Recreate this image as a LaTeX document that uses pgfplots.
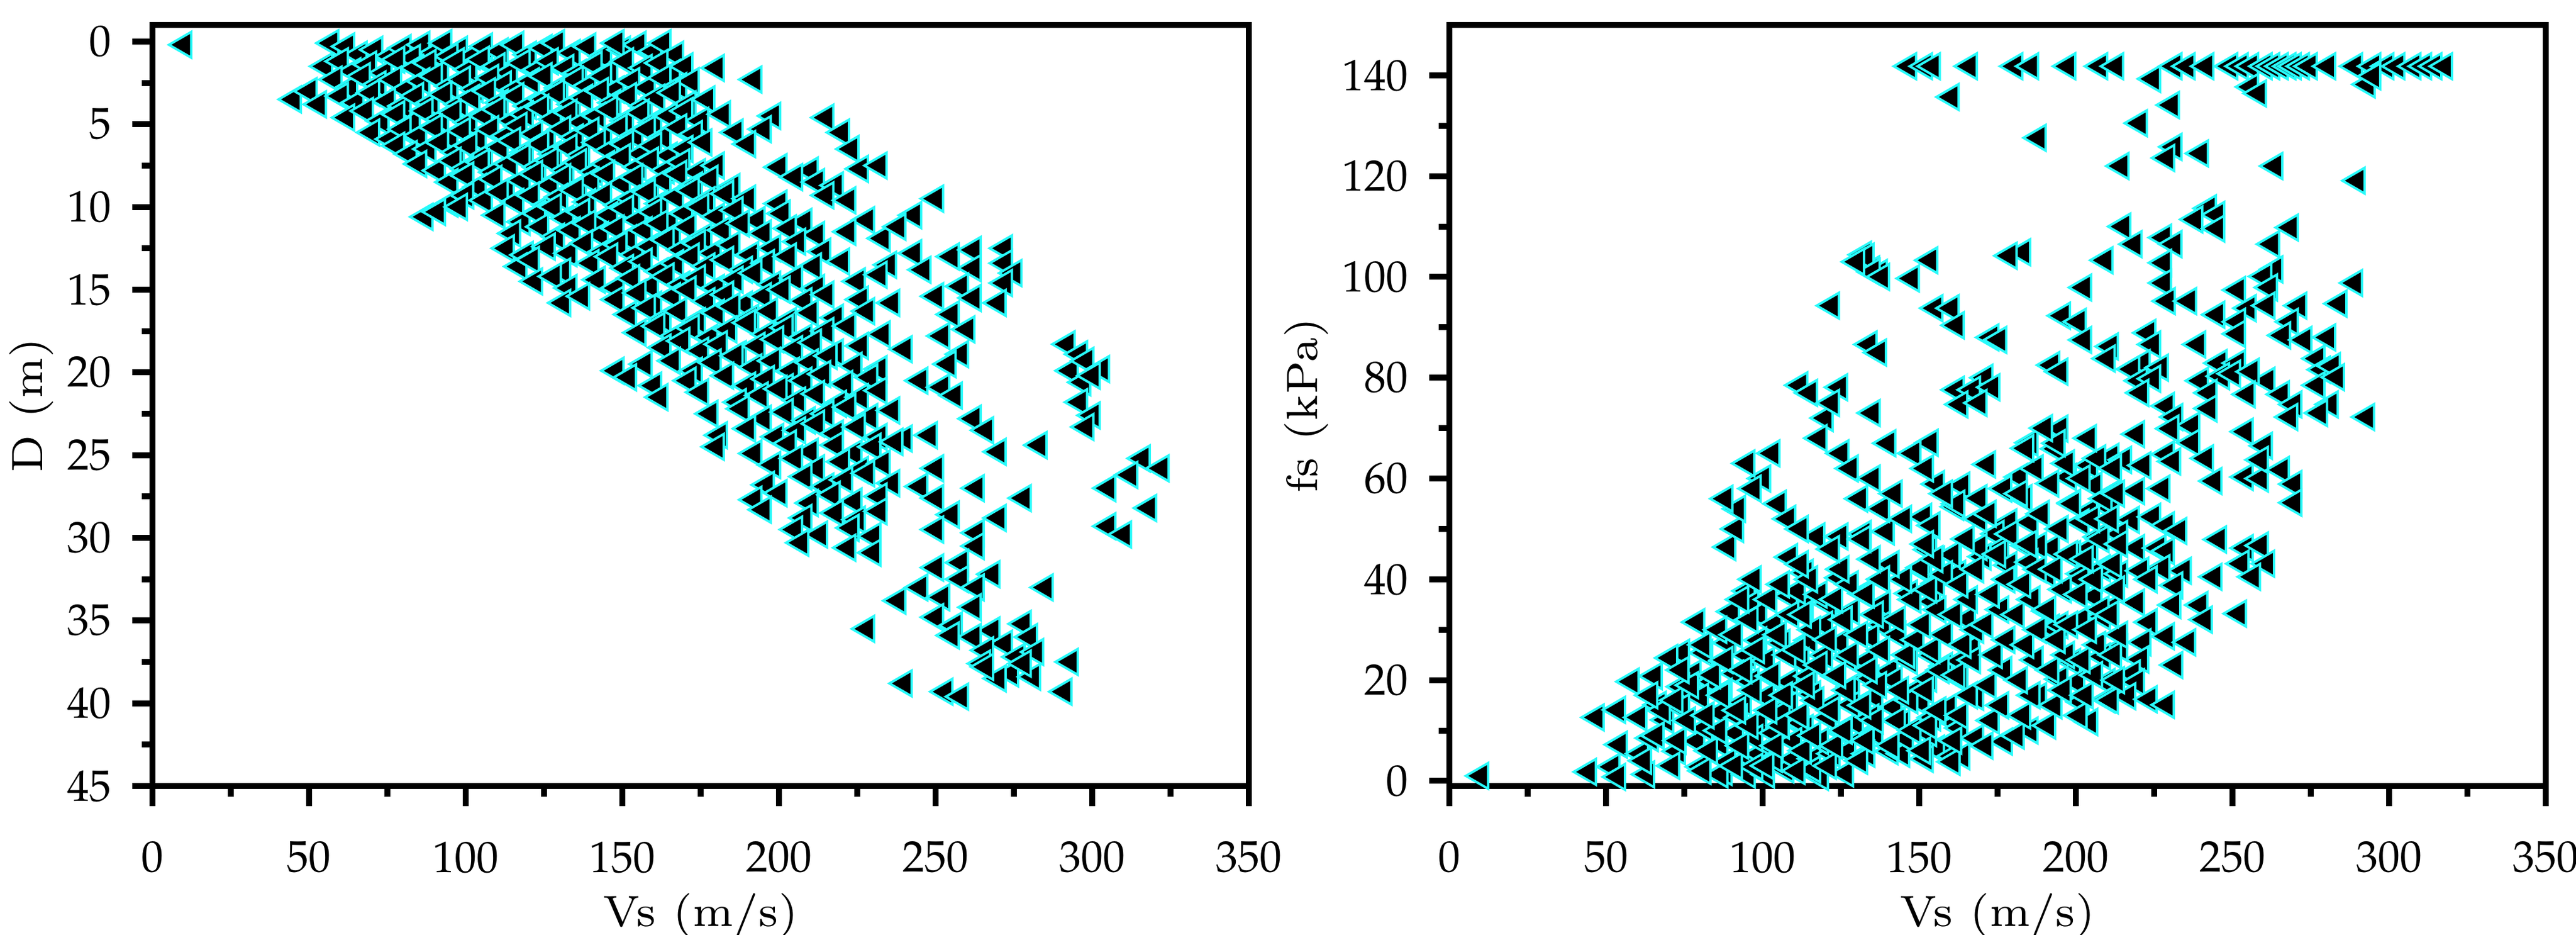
\documentclass[border=0pt]{standalone}
\usepackage{mathpazo}
\usepackage{pgfplots}
\pgfplotsset{compat=1.18}
\definecolor{edgecyan}{RGB}{40,250,250}
\pgfplotsset{
  myaxis/.style={
    scale only axis, width=184.8pt, height=128.2pt,
    axis line style={line width=1pt},
    tick align=outside,
    major tick length=3.4pt, minor tick length=1.8pt,
    every tick/.style={line width=1pt, black},
    xtick pos=lower, ytick pos=left,
    xmin=0, xmax=350, xtick={0,50,...,350}, minor x tick num=1,
    tick label style={font=\fontsize{7.4}{8.5}\selectfont},
    xticklabel style={yshift=-2.5pt},
    label style={font=\fontsize{7.4}{8.5}\selectfont},
    xlabel={Vs (m/s)},
    xlabel shift=-3.5pt, ylabel shift=-4.5pt,
    scaled ticks=false,
  },
  mystyle/.style={only marks, mark=triangle*, mark size=2.5pt,
    mark options={draw=edgecyan, fill=black, line width=0.4pt, rotate=90}},
}
\begin{document}
\begin{tikzpicture}
\useasboundingbox (-25.7pt,-25.1pt) rectangle (408.5pt,132.4pt);
\begin{axis}[myaxis, ymin=-1, ymax=45, y dir=reverse, ytick={0,5,...,45}, minor y tick num=1,
  ylabel={D (m)}]
\addplot[mystyle] table {
x y
10 0.2
57 0.1
62 0.3
66 0.8
71 0.5
76 0.9
80 0.4
86 0.2
90 0.7
93 0.1
98 0.5
102 0.9
106 0.3
111 0.6
116 0.2
120 0.8
125 0.4
129 0.1
134 0.7
139 0.3
144 0.9
150 0.5
155 0.2
160 0.6
163 0.1
167 0.8
83 1.0
95 0.9
148 0.1
55 1.5
60 1.2
64 1.8
69 1.4
74 1.9
78 1.1
84 1.6
88 1.3
92 1.9
97 1.2
101 1.7
105 1.1
110 1.5
114 1.9
118 1.3
123 1.7
127 1.2
132 1.6
136 1.9
141 1.4
146 1.8
151 1.2
157 1.6
162 1.3
166 1.9
170 1.5
180 1.6
58 2.3
63 2.8
67 2.1
72 2.6
77 2.3
81 2.9
86 2.4
90 2.1
95 2.7
99 2.3
103 2.9
108 2.2
112 2.6
116 2.9
121 2.4
125 2.1
130 2.8
135 2.3
139 2.7
144 2.1
148 2.9
153 2.4
158 2.8
163 2.2
168 2.7
172 2.4
192 2.3
45 3.5
50 3.0
53 3.8
60 3.3
65 3.7
70 3.1
75 3.6
80 3.9
84 3.3
89 3.7
93 3.2
98 3.8
102 3.4
107 3.0
111 3.7
116 3.3
120 3.9
125 3.5
129 3.1
134 3.8
138 3.4
143 3.0
147 3.7
152 3.3
157 3.9
161 3.4
166 3.1
171 3.8
177 3.5
62 4.6
68 4.2
73 4.8
78 4.4
83 4.9
87 4.2
92 4.7
96 4.3
101 4.9
106 4.5
110 4.1
115 4.8
119 4.4
124 4.0
128 4.7
133 4.3
137 4.9
142 4.5
146 4.1
151 4.8
156 4.3
160 4.9
165 4.5
170 4.2
175 4.8
182 4.4
198 4.5
215 4.6
70 5.5
76 5.9
80 5.3
85 5.7
90 5.2
95 5.8
99 5.4
104 5.9
108 5.3
113 5.7
117 5.1
122 5.6
126 5.9
131 5.3
135 5.8
140 5.4
144 5.9
149 5.2
154 5.7
158 5.3
163 5.8
168 5.2
173 5.6
186 5.5
195 5.3
220 5.5
78 6.3
82 6.8
88 6.5
92 6.1
97 6.7
101 6.3
106 6.9
111 6.4
115 6.0
119 6.7
124 6.2
128 6.8
133 6.4
137 6.9
142 6.1
146 6.6
151 6.2
156 6.8
160 6.3
165 6.9
170 6.5
176 6.1
190 6.2
223 6.5
85 7.4
91 7.8
96 7.2
100 7.7
105 7.3
109 7.9
114 7.4
118 7.0
123 7.6
127 7.2
132 7.8
136 7.3
141 7.9
145 7.4
150 7.0
155 7.6
159 7.2
164 7.8
169 7.3
174 7.9
180 7.5
200 7.6
210 7.8
226 7.7
232 7.5
95 8.5
100 8.1
104 8.8
109 8.3
113 8.9
118 8.4
122 8.0
127 8.7
131 8.2
136 8.8
140 8.4
145 8.0
150 8.6
154 8.2
159 8.9
163 8.4
168 8.0
173 8.7
178 8.3
185 8.8
205 8.2
212 8.5
218 8.7
95 9.8
100 9.3
106 9.6
111 9.1
116 9.7
121 9.3
126 9.9
130 9.4
135 9.0
139 9.7
144 9.3
149 9.9
153 9.5
158 9.1
162 9.8
167 9.4
172 9.0
177 9.6
183 9.2
190 9.5
200 9.8
215 9.3
222 9.6
250 9.5
243 10.5
87 10.6
91 10.3
98 10.0
110 10.5
118 10.9
123 10.4
128 10.0
132 10.7
137 10.3
142 10.9
146 10.5
151 10.1
155 10.8
160 10.3
165 10.9
170 10.4
175 10.0
180 10.6
186 10.2
193 10.8
201 10.4
208 10.9
228 10.8
115 11.6
124 11.2
129 11.8
134 11.4
139 11.0
143 11.7
148 11.3
152 11.9
157 11.4
162 11.0
166 11.7
171 11.2
176 11.8
182 11.4
188 11.0
195 11.6
203 11.3
212 11.7
222 11.5
233 11.9
238 11.2
113 12.5
119 12.9
126 12.4
133 12.8
138 12.2
144 12.7
149 12.3
154 12.9
159 12.4
164 12.0
169 12.6
174 12.2
179 12.8
185 12.3
191 12.9
198 12.5
206 12.1
214 12.7
243 12.8
255 13.0
262 12.6
272 12.5
117 13.6
121 13.2
131 13.9
140 13.4
146 13.0
151 13.7
157 13.3
162 13.9
167 13.4
172 13.0
177 13.6
183 13.2
189 13.8
196 13.4
203 13.0
211 13.6
220 13.3
235 13.5
246 13.8
262 13.7
272 13.4
275 14.0
122 14.5
128 14.2
133 14.9
142 14.4
148 14.9
153 14.3
159 14.8
164 14.2
169 14.7
174 14.3
180 14.9
186 14.4
192 14.0
198 14.7
205 14.3
212 14.9
225 14.5
232 14.1
258 14.8
272 14.6
131 15.8
137 15.4
148 15.6
155 15.2
160 15.9
166 15.4
171 15.0
177 15.7
183 15.3
189 15.9
195 15.4
201 15.0
208 15.7
215 15.3
226 15.6
236 15.8
250 15.4
262 15.5
270 15.8
152 16.5
158 16.1
163 16.8
168 16.3
174 16.9
180 16.4
185 16.0
191 16.7
197 16.3
203 16.9
210 16.4
218 16.7
228 16.3
255 16.5
155 17.6
161 17.2
167 17.8
172 17.3
178 17.9
184 17.4
190 17.0
196 17.7
202 17.3
208 17.9
215 17.5
222 17.2
233 17.7
252 17.8
260 17.4
163 18.5
169 18.1
175 18.7
181 18.3
187 18.9
193 18.4
199 18.0
205 18.6
211 18.2
218 18.8
226 18.4
240 18.6
258 18.9
292 18.3
296 18.9
148 19.9
157 19.5
166 19.3
173 19.9
179 19.4
186 19.0
192 19.7
198 19.3
204 19.9
210 19.4
216 19.0
224 19.6
232 19.8
254 19.5
293 19.9
298 19.3
303 19.8
152 20.3
160 20.8
171 20.5
183 20.2
190 20.8
196 20.4
202 20.9
208 20.5
214 20.1
221 20.7
229 20.3
245 20.5
252 20.9
297 20.6
300 20.2
162 21.5
175 21.2
187 21.8
194 21.4
200 21.0
206 21.7
212 21.3
219 21.9
226 21.5
232 21.1
256 21.4
296 21.8
178 22.5
188 22.2
195 22.8
202 22.4
209 22.9
215 22.5
222 22.1
229 22.7
236 22.3
262 22.8
300 22.6
298 23.3
181 23.8
190 23.4
199 23.9
206 23.5
212 23.1
218 23.7
225 23.3
232 23.9
266 23.5
240 24.0
248 23.8
180 24.5
192 24.9
203 24.3
210 24.8
218 24.4
224 24.9
230 24.5
237 24.2
270 24.8
283 24.4
316 25.2
198 25.6
205 25.2
212 25.8
220 25.4
226 25.9
233 25.5
250 25.8
322 25.8
312 26.2
196 26.8
208 26.3
215 26.9
221 26.5
228 26.1
236 26.7
245 26.9
263 27.0
305 27.0
192 27.7
200 27.3
210 27.9
217 27.4
224 27.8
232 27.5
250 27.6
278 27.6
318 28.2
195 28.3
208 28.8
218 28.5
225 28.9
232 28.4
255 28.6
270 28.8
205 29.5
213 29.8
223 29.4
230 29.9
250 29.5
263 29.7
305 29.3
310 29.8
207 30.3
222 30.6
230 30.9
263 30.5
258 31.5
250 31.8
258 32.5
268 32.2
245 33.0
252 33.6
263 33.0
285 33.0
238 33.8
262 34.2
250 34.8
256 35.3
228 35.5
268 35.6
278 35.2
262 36.0
272 36.4
280 36.0
255 35.9
266 36.8
276 37.2
282 36.9
293 37.5
265 37.6
274 38.2
240 38.8
253 39.3
258 39.6
270 38.5
281 38.4
291 39.3
266 37.8
278 37.6
};
\end{axis}
\begin{axis}[myaxis, xshift=218.6pt, ymin=-1, ymax=150, ytick={0,20,...,140}, minor y tick num=1,
  ylabel={fs (kPa)}]
\addplot[mystyle] table {
x y
146.6 141.8
151.7 141.8
154.2 141.8
166 141.8
180.5 141.8
185.6 141.8
197.4 141.8
207.6 141.8
212.7 141.8
231.3 141.8
235.5 141.8
241.5 141.8
249.1 141.8
252.5 141.8
255.8 141.8
260.1 141.8
262.5 141.8
265.2 141.8
267.7 141.8
269.4 141.8
272 141.8
274.5 141.8
280.4 141.8
289 141.8
294.8 141.8
299 141.8
302.5 141.8
307.6 141.8
311 141.8
314.3 141.8
317.7 141.8
224.5 139.3
293 138.2
294.8 139.8
255.8 137.7
258.3 136.4
160.2 135.7
230.5 134.1
220.3 130.5
188 127.6
231.3 125.8
239.8 124.5
229 123.6
214.4 122
263.5 122
289.8 119.1
242.3 113.6
245 112.3
238 111.4
215 110
245 109.6
268.5 109.8
228 107.8
231.3 106.5
218.6 106.5
262.5 106.5
132.2 104.4
183 104.9
178.7 104.2
153.4 103.3
209.3 103.3
228 102.8
134.8 101.5
137.3 100.8
147.5 99.7
263.5 101.5
260 100.1
202.5 97.9
228 98.8
251.6 97.4
261.8 97.9
289 98.8
122 94.3
155 93.8
160.2 93.8
229.2 95.2
236 95.2
195.7 92.3
200.8 91.1
245 92.5
255 93.8
261 94.3
271.2 94.3
284 94.7
251.6 91.1
268.5 91.1
161.8 90.4
134 86.6
172.9 88
175.4 87.5
202.5 87.5
211 86.2
223 88.9
224.5 86.6
238.9 86.6
251.6 88.7
266 88.4
272.8 87.5
280.4 88
192.3 82.5
210 83.8
221.2 82.9
227 82
245.7 82.9
251.6 82.9
277 83.8
278.7 81.6
171 80.0
217.8 81.7
220.3 79.4
224.5 79.8
239.8 79.4
246.5 80.3
250 80.8
261 79.4
277 78.5
111.9 78.5
124.6 78.1
161.8 77.6
167 77.6
194.9 81.2
173.2 78.1
163 74.7
169.1 75
256 81.2
281.9 82.3
283.2 80.1
220.7 77
242.5 77
254.7 76.7
265.6 76.7
269.6 74.7
281.2 74.7
277.8 73
268.3 72.2
292.8 72.2
228.9 74.4
231.6 72.2
237 70.5
242.5 73.9
153.5 67.1
185.4 67.1
194.9 69.9
193.6 65.9
219.4 68.8
230.3 69.9
254.1 69.3
260.2 66.5
237 67.1
171.8 62.8
182 60.3
155.5 58.9
163.6 58.6
169.1 56.1
161.6 54.4
183.4 56.1
151.4 52.4
154.1 50.7
197.6 60.3
204.4 62.6
211.2 64.3
215.2 63.7
221.4 62.6
228.9 64.8
230.9 63.4
241.4 64
244.1 59.5
254.1 60.3
258.9 60
258.9 63.7
265.6 61.7
269.6 58.9
269.6 55.2
205.8 58.6
211.2 56.9
219.4 57.5
227.5 58
199 55.2
204.4 53.5
211.2 54.1
217.7 51.8
224.5 52.4
228.9 50.7
232.9 49.6
201.7 51.3
207.2 48.4
214 49
219.4 46.2
204.4 46.2
199 45
192.2 46.2
185.4 51.3
178.6 51.3
174.5 49
184.1 46.7
176 46.2
245.5 47.9
254.1 46.2
258.9 46.7
226.2 46.2
228.9 45.6
252.7 43.1
260.9 43.1
244.1 40.5
256.4 40.5
234.3 41.7
227.5 42.2
155.5 43.9
160.9 45
151.4 41.7
162.3 41.1
188.1 46.7
170.4 44.5
178.6 42.8
185.4 43.4
190.8 41.1
201.7 41.1
208.5 42.2
214 41.1
220.7 41.7
223.4 40
201.7 40
219.4 35.4
231.6 38.8
231 34.9
239.6 34.9
241 32
251.9 33.2
223.4 31.5
205.8 36.6
208.5 32.6
211.2 34.3
190.8 33.7
201.7 32
192.2 30.4
194.9 30.9
228.9 28.7
235.7 27.5
221.4 27.5
214 26.4
208.5 24.7
199 23.6
220.7 24.1
231.6 23
218 21.3
219.4 19.6
216.6 16.8
223.4 16.2
228.9 15.1
209.9 19.6
209.9 16.2
201.7 15.7
204.4 11.7
200.3 19.6
194.9 20.2
188.1 16.8
185.4 10
177.2 7.8
163.6 4.9
159.5 6.6
10 1
44.4 1.8
51.9 2.8
53.7 0.8
63 1.3
46.9 12.6
53.7 14.1
54.3 7.2
61.1 5.4
64.2 8.5
58 19.7
65.4 20.8
60.5 12.6
69.1 12.1
72.8 5.9
79 7.9
86.4 7.4
80.2 2.8
87.7 1.8
95.1 1.3
101.2 1.3
107.4 2.3
118.5 0.8
126.5 1.5
88.9 3.8
96.3 4.4
98.8 5.4
103.7 6.4
109.9 4.4
116 4.4
122.2 5.4
118.5 7.9
113.6 10.5
125.9 9.5
132.1 8.5
129.6 11.5
140.7 5.9
144.4 5.4
155.5 6.4
160.5 4.9
153 9.5
161.7 11.5
148.1 17.7
140.7 21.8
158 22.8
166.7 26.4
165.4 32.1
154.3 35.6
150.6 42.3
160.5 44.9
153 45.9
169.1 46.4
108.6 44.4
88.9 46.4
91.4 50
117.3 48.5
124.7 48.5
132.1 49
139.5 49.5
79 31.5
95.1 37.7
96.3 35.1
90.1 33.6
98.8 33.1
103.7 31
108.6 36.7
113.6 34.6
111.1 37.7
121 35.1
124.7 40.3
132.1 37.2
138.3 35.1
146.9 37.2
155.5 39.2
128.4 33.6
119.8 31
138.3 31
143.2 29
134.6 28.5
124.7 27.4
114.8 27.9
106.2 27.4
98.8 27.9
88.9 27.4
81.5 25.4
74.1 25.4
70.4 24.4
87.7 23.8
95.1 24.9
101.2 23.8
112.3 23.8
119.8 24.9
127.2 24.4
133.3 23.8
146.9 23.8
154.3 24.9
163 23.8
77.8 21.3
84 19.7
91.4 21.3
96.3 19.7
102.5 20.8
108.6 19.7
114.8 20.8
123.5 20.8
128.4 18.7
134.6 20.3
153 20.3
163 20.3
74.1 18.7
80.2 16.7
87.7 17.7
93.8 15.6
101.2 16.7
108.6 15.1
116 17.2
122.2 15.1
128.4 15.1
135.8 16.7
141.9 14.6
150.6 15.6
159.3 14.6
168 16.7
66.7 15.1
74.1 14.6
86.4 13.6
92.6 12.6
98.8 11.5
106.2 13.6
112.3 11.5
121 12.6
134.6 12.6
144.4 11.5
154.3 12.6
163 10.5
81.5 10.5
91.4 9.5
97.5 8.5
103.7 9.5
109.9 7.9
135.8 9.5
145.6 8.5
168 8.5
127.2 5.9
133.3 5.4
151.9 4.4
160.5 3.8
103.7 4.4
116 2.3
97.5 2.8
86.4 1.3
113.6 41.3
141 7
143 12
147 16
142 20
146 25
149 28
143 32
148 36
145 40
141 43
148 10
144 18
151 6
153 11
156 14
152 18
157 22
154 26
158 29
151 31
156 34
153 38
158 41
155 44
152 47
161 8
163 13
166 17
162 21
167 24
164 27
168 30
161 33
166 36
163 39
168 42
165 48
169 52
162 55
171 7
173 12
176 15
172 19
177 22
174 25
178 28
171 31
176 34
173 37
178 40
175 45
179 49
172 53
177 58
181 9
183 13
186 17
182 20
187 24
184 27
188 30
181 33
186 36
183 39
188 42
185 47
189 53
182 57
187 62
184 66
191 11
193 15
196 18
192 22
197 25
194 28
198 31
191 34
196 38
193 42
198 45
195 50
199 55
192 59
197 63
194 67
190 70
201 13
203 17
206 21
202 24
207 27
204 30
208 34
201 37
206 40
203 44
208 48
205 52
209 56
202 60
207 64
204 68
211 16
213 20
212 25
214 29
211 33
213 38
212 43
214 47
211 52
213 57
212 62
101 3
104 7
106 11
102 14
107 17
103 21
108 25
105 29
109 33
102 36
106 39
111 2
113 6
116 9
112 13
117 16
114 19
118 23
111 26
116 30
113 33
118 37
115 40
112 43
121 3
123 7
126 10
122 14
127 18
124 21
128 25
121 28
126 32
123 36
128 39
125 42
122 46
131 4
133 8
136 12
132 15
137 19
134 22
138 26
131 29
136 33
133 37
138 40
135 44
132 48
62 4
66 9
68 14
64 17
71 3
73 8
76 12
72 16
77 19
74 22
81 2
83 6
86 10
82 13
87 17
84 21
88 24
81 27
86 30
91 3
93 7
96 11
92 14
97 18
94 22
98 26
91 29
96 32
93 36
97 40
115 77
120 72
122 75
118 68
125 65
128 62
131 56
135 60
138 54
142 57
145 52
148 65
152 62
158 57
140 67
135 73
137 85
133 104
135 101
138 100
130 103
105 55
100 60
97 58
92 54
103 65
108 52
112 50
88 56
95 63
};
\end{axis}
\end{tikzpicture}
\end{document}
